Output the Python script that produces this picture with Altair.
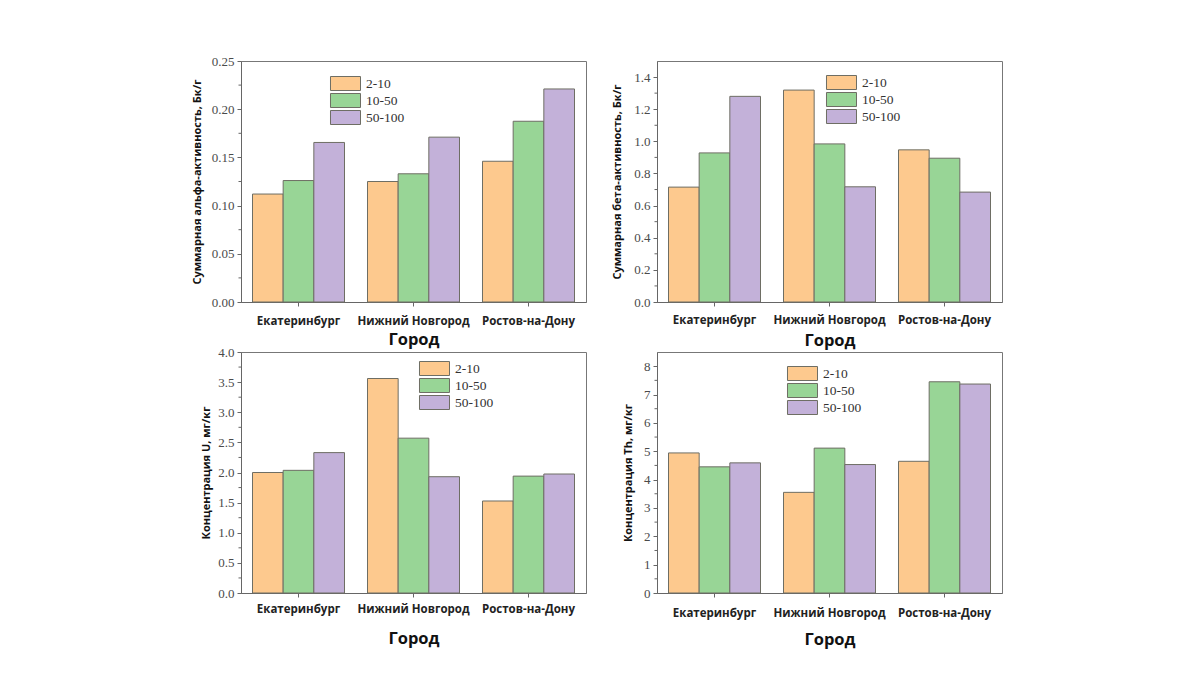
import altair as alt
import pandas as pd

# ---- data ----
cities = ["Екатеринбург", "Нижний Новгород", "Ростов-на-Дону"]
groups = ["2-10", "10-50", "50-100"]
colors = ["#FDC98E", "#98D596", "#C3B1D9"]

# values per group, in city order
alpha_2_10 = [0.112, 0.125, 0.146]
alpha_10_50 = [0.126, 0.133, 0.1875]
alpha_50_100 = [0.1655, 0.171, 0.221]

beta_2_10 = [0.715, 1.319, 0.947]
beta_10_50 = [0.928, 0.984, 0.895]
beta_50_100 = [1.28, 0.717, 0.684]

u_2_10 = [2.0, 3.56, 1.527]
u_10_50 = [2.036, 2.57, 1.94]
u_50_100 = [2.33, 1.93, 1.975]

th_2_10 = [4.94, 3.55, 4.645]
th_10_50 = [4.45, 5.11, 7.45]
th_50_100 = [4.59, 4.53, 7.37]

# axis ticks
alpha_ticks = [0.0, 0.05, 0.10, 0.15, 0.20, 0.25]
alpha_minor = [0.025, 0.075, 0.125, 0.175, 0.225]
beta_ticks = [0.0, 0.2, 0.4, 0.6, 0.8, 1.0, 1.2, 1.4]
beta_minor = [0.1, 0.3, 0.5, 0.7, 0.9, 1.1, 1.3]
u_ticks = [0.0, 0.5, 1.0, 1.5, 2.0, 2.5, 3.0, 3.5, 4.0]
u_minor = [0.25, 0.75, 1.25, 1.75, 2.25, 2.75, 3.25, 3.75]
th_ticks = [0, 1, 2, 3, 4, 5, 6, 7, 8]
th_minor = [0.5, 1.5, 2.5, 3.5, 4.5, 5.5, 6.5, 7.5]

SANS = "Open Sans"
SERIF = "Liberation Serif"
W, H = 345, 241


def panel(series, ytitle, ymax, ticks, fmt, minor, lx, ly, ytx, xlp, xty):
    rows = []
    for g, vals in zip(groups, series):
        for c, v in zip(cities, vals):
            rows.append({"city": c, "group": g, "value": v})
    df = pd.DataFrame(rows)

    yscale = alt.Scale(domain=[0, ymax], nice=False, zero=True)
    yaxis = alt.Axis(
        title=ytitle,
        values=ticks,
        format=fmt,
        grid=False,
        titleX=ytx,
        titleBaseline="middle",
    )

    bars = alt.Chart(df).mark_bar(stroke="#6e6e64", strokeWidth=1).encode(
        x=alt.X(
            "city:N",
            sort=cities,
            scale=alt.Scale(paddingInner=0.2, paddingOuter=0.1),
            axis=alt.Axis(
                title="Город",
                labelAngle=0,
                labelPadding=xlp,
                titleY=xty,
                titleBaseline="middle",
            ),
        ),
        xOffset=alt.XOffset("group:N", sort=groups,
                            scale=alt.Scale(paddingInner=0, paddingOuter=0)),
        y=alt.Y("value:Q", scale=yscale, axis=yaxis),
        color=alt.Color(
            "group:N",
            sort=groups,
            scale=alt.Scale(domain=groups, range=colors),
            legend=alt.Legend(
                title=None,
                orient="none",
                legendX=lx + 8,
                legendY=ly,
                padding=0,
                symbolType="M-2.143,-1H2.143V1H-2.143Z",
                symbolSize=196,
                symbolStrokeColor="#6e6e64",
                symbolStrokeWidth=1,
                symbolOpacity=1,
                labelFont=SERIF,
                labelFontSize=13.5,
                labelColor="#333",
                labelOffset=13,
                rowPadding=-2,
            ),
        ),
    )

    minor_df = pd.DataFrame({"value": minor})
    minor_rules = alt.Chart(minor_df).mark_rule(color="#666", strokeWidth=1).encode(
        y=alt.Y("value:Q", scale=yscale, axis=yaxis),
        x=alt.value(-2.5),
        x2=alt.value(0),
    )
    return alt.layer(bars, minor_rules).properties(width=W, height=H)


p1 = panel([alpha_2_10, alpha_10_50, alpha_50_100],
           "Суммарная альфа-активность, Бк/г", 0.25, alpha_ticks, ".2f",
           alpha_minor, 89, 15, -44, 9, 37)
p2 = panel([beta_2_10, beta_10_50, beta_50_100],
           "Суммарная бета-активность, Бк/г", 1.5, beta_ticks, ".1f",
           beta_minor, 169, 14, -40, 8, 38)
p3 = panel([u_2_10, u_10_50, u_50_100],
           "Концентрация U, мг/кг", 4.0, u_ticks, ".1f",
           u_minor, 178, 9, -35, 6, 45)
p4 = panel([th_2_10, th_10_50, th_50_100],
           "Концентрация Th, мг/кг", 8.5, th_ticks, "d",
           th_minor, 130, 14, -29, 10, 46)

chart = (
    alt.concat(p1, p2, p3, p4, columns=2, spacing={"row": 50, "column": 71},
               bounds="flush")
    .resolve_scale(color="independent", y="independent", x="independent")
    .resolve_legend(color="independent")
    .properties(padding={"left": 182, "top": 46, "right": 5, "bottom": 5},
                background="white")
    .configure_view(stroke="#777", strokeWidth=1)
    .configure_axis(domainColor="#666", tickColor="#666", tickSize=4)
    .configure_axisX(
        labelFont=SANS, labelFontSize=11.5, labelFontWeight="bold",
        labelColor="#222", titleFont=SANS, titleFontSize=16.5,
        titleFontWeight="bold", titleColor="#111", domain=True, ticks=True,
    )
    .configure_axisY(
        labelFont=SERIF, labelFontSize=13, labelColor="#4a4a4a",
        labelPadding=3, titleFont=SANS, titleFontSize=11,
        titleFontWeight="bold", titleColor="#111",
    )
)

chart.save("out.html", embed_options={"renderer": "svg", "actions": False})
